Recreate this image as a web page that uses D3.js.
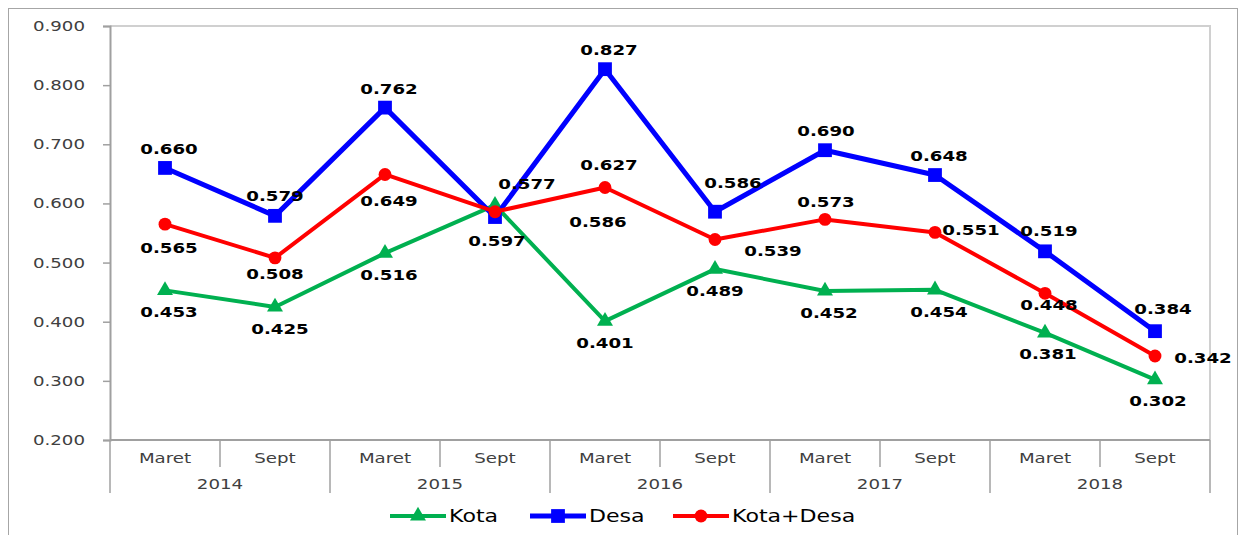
<!DOCTYPE html>
<html>
<head>
<meta charset="utf-8">
<script src="https://cdn.jsdelivr.net/npm/d3@7"></script>
<style>
  body { margin: 0; background: #fff; }
  svg { font-family: "DejaVu Sans", Verdana, sans-serif; }
</style>
</head>
<body>
<svg width="1241" height="535"></svg>
<script>
var years = ['2014', '2015', '2016', '2017', '2018'];
var months = ['Maret', 'Sept'];
var kota = [0.453, 0.425, 0.516, 0.597, 0.401, 0.489, 0.452, 0.454, 0.381, 0.302];
var desa = [0.660, 0.579, 0.762, 0.577, 0.827, 0.586, 0.690, 0.648, 0.519, 0.384];
var kotaDesa = [0.565, 0.508, 0.649, 0.586, 0.627, 0.539, 0.573, 0.551, 0.448, 0.342];
var yTicks = [0.2, 0.3, 0.4, 0.5, 0.6, 0.7, 0.8, 0.9];

// label offsets [dx, dy] from each point, as placed in the original
var kotaLab = [[4,22],[5,22],[4,22],[2,36],[0,22],[0,22],[4,22],[4,22],[3,21],[3,21]];
var desaLab = [[4,-19],[0,-20],[4,-19],[32,-33],[4,-19],[18,-29],[1,-19],[4,-19],[4,-20],[8,-22]];
var kdLab = [[4,24],[0,16],[4,27],[103,10],[4,-22],[58,11],[1,-17],[36,-2],[4,12],[48,2]];

var cats = [];
years.forEach(y => months.forEach(m => cats.push(y + '|' + m)));

var svg = d3.select('svg');
var pLeft = 110, pRight = 1210, pTop = 26, pBottom = 440;
var SX = 1.3; // the original's text is drawn wide

// move x/y into a transform and widen the glyphs around the anchor
function stretch(sel) {
  sel.each(function() {
    var t = d3.select(this);
    var tx = +t.attr('x') || 0, ty = +t.attr('y') || 0;
    t.attr('x', 0).attr('y', 0)
     .attr('transform', `translate(${tx},${ty}) scale(${SX},1)`);
  });
}

var x = d3.scaleBand().domain(cats).range([pLeft, pRight]);
var y = d3.scaleLinear().domain([0.2, 0.9]).range([pBottom, pTop]);

// outer chart frame
svg.append('rect')
  .attr('x', 8.5).attr('y', 8.5)
  .attr('width', 1229).attr('height', 540)
  .attr('fill', 'none').attr('stroke', '#a6a6a6');

// plot frame
svg.append('path')
  .attr('d', `M${pLeft},${pTop}H${pRight}V${pBottom}`)
  .attr('fill', 'none').attr('stroke', '#d0d0d0').attr('stroke-width', 2);

// y axis
var yAxis = svg.append('g')
  .attr('transform', `translate(${pLeft},0)`)
  .call(d3.axisLeft(y).tickValues(yTicks).tickFormat(d3.format('.3f')).tickSize(7).tickPadding(18));
yAxis.select('.domain').attr('stroke', '#a0a0a0').attr('stroke-width', 2);
yAxis.selectAll('.tick line').attr('stroke', '#a0a0a0').attr('stroke-width', 1.5);
yAxis.selectAll('.tick text')
  .attr('font-size', 14).attr('fill', '#404040')
  .attr('font-family', '"DejaVu Sans", Verdana, sans-serif')
  .call(stretch);

// x axis, two levels
var xg = svg.append('g');
xg.append('line')
  .attr('x1', pLeft).attr('x2', pRight).attr('y1', pBottom).attr('y2', pBottom)
  .attr('stroke', '#a0a0a0').attr('stroke-width', 2);

var bw = x.bandwidth();
xg.selectAll('line.sep')
  .data(d3.range(cats.length + 1))
  .enter().append('line')
    .attr('class', 'sep')
    .attr('x1', i => pLeft + i * bw).attr('x2', i => pLeft + i * bw)
    .attr('y1', pBottom)
    .attr('y2', i => i % 2 === 0 ? 493 : 467)
    .attr('stroke', '#a0a0a0').attr('stroke-width', 1.5);

xg.selectAll('text.month')
  .data(cats)
  .enter().append('text')
    .attr('class', 'month')
    .attr('x', d => x(d) + bw / 2)
    .attr('y', 463)
    .attr('text-anchor', 'middle')
    .attr('font-size', 14).attr('fill', '#404040')
    .text(d => d.split('|')[1])
    .call(stretch);

xg.selectAll('text.year')
  .data(years)
  .enter().append('text')
    .attr('class', 'year')
    .attr('x', d => x(d + '|Maret') + bw)
    .attr('y', 489)
    .attr('text-anchor', 'middle')
    .attr('font-size', 14).attr('fill', '#404040')
    .text(d => d)
    .call(stretch);

var series = [
  { name: 'Kota', values: kota, color: '#00b050', shape: d3.symbolTriangle, size: 110, width: 4, labs: kotaLab },
  { name: 'Desa', values: desa, color: '#0000ff', shape: d3.symbolSquare, size: 190, width: 5, labs: desaLab },
  { name: 'Kota+Desa', values: kotaDesa, color: '#ff0000', shape: d3.symbolCircle, size: 130, width: 4, labs: kdLab }
];

var line = d3.line()
  .x((d, i) => x(cats[i]) + bw / 2)
  .y(d => y(d));

series.forEach(s => {
  var g = svg.append('g');
  g.append('path')
    .datum(s.values)
    .attr('d', line)
    .attr('fill', 'none')
    .attr('stroke', s.color)
    .attr('stroke-width', s.width)
    .attr('stroke-linejoin', 'round');
  g.selectAll('path.mk')
    .data(s.values)
    .enter().append('path')
      .attr('class', 'mk')
      .attr('d', d3.symbol().type(s.shape).size(s.size))
      .attr('transform', (d, i) => `translate(${x(cats[i]) + bw / 2},${y(d)})`)
      .attr('fill', s.color);
});

series.forEach(s => {
  svg.append('g').selectAll('text')
    .data(s.values)
    .enter().append('text')
      .attr('x', (d, i) => x(cats[i]) + bw / 2 + s.labs[i][0])
      .attr('y', (d, i) => y(d) + s.labs[i][1] + 5)
      .attr('text-anchor', 'middle')
      .attr('font-size', 14).attr('font-weight', 'bold')
      .attr('fill', '#000')
      .text(d => d3.format('.3f')(d))
      .call(stretch);
});

// legend
var legendX = [390, 530, 673];
var leg = svg.append('g');
series.forEach((s, i) => {
  var lx = legendX[i], ly = 516;
  leg.append('line')
    .attr('x1', lx).attr('x2', lx + 56).attr('y1', ly).attr('y2', ly)
    .attr('stroke', s.color).attr('stroke-width', s.width);
  leg.append('path')
    .attr('d', d3.symbol().type(s.shape).size(s.size))
    .attr('transform', `translate(${lx + 28},${ly})`)
    .attr('fill', s.color);
  leg.append('text')
    .attr('x', lx + 59).attr('y', ly + 6)
    .attr('font-size', 17).attr('fill', '#000')
    .text(s.name)
    .call(stretch);
});
</script>
</body>
</html>
